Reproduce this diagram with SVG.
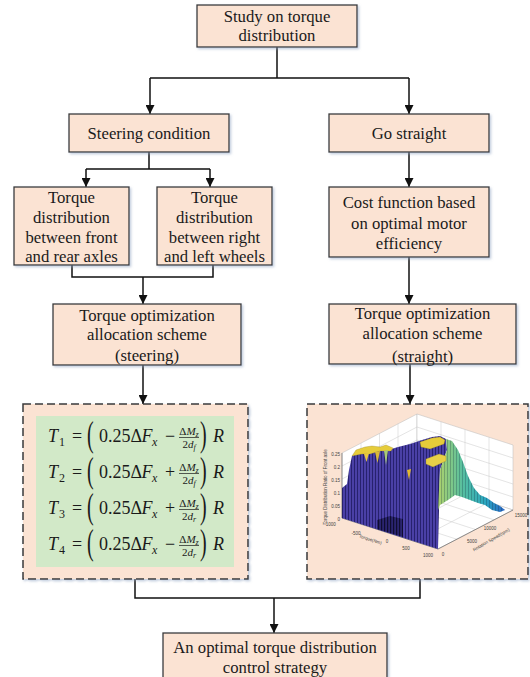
<svg xmlns="http://www.w3.org/2000/svg" width="530" height="677" viewBox="0 0 530 677">
<defs>
<style>
.box{fill:#FBE3D3;stroke:#3a3a3a;stroke-width:1.3;filter:url(#sh)}
.dash{fill:#FBE3D3;stroke:#3a3a3a;stroke-width:1.5;stroke-dasharray:8 4;filter:url(#sh)}
.t{font-family:"Liberation Serif","Times New Roman",serif;font-size:16.7px;fill:#1a1a1a;text-anchor:middle}
.c{fill:none;stroke:#111;stroke-width:1.5}
.m{font-family:"Liberation Serif","Times New Roman",serif;font-size:18px;fill:#1a1a1a}
.mi{font-style:italic}
.s{font-size:12px}
.p{font-size:20px}
.fr{font-size:11px;text-anchor:middle}
.fs{font-size:8px;font-style:italic}
.bar{stroke:#1a1a1a;stroke-width:0.7}
.g{fill:none;stroke:#c8c8c8;stroke-width:0.5}
.ax{fill:none;stroke:#555;stroke-width:0.6}
.tk{font-family:"Liberation Sans",Arial,sans-serif;font-size:4.5px;fill:#444}
</style>
<filter id="sh" x="-5%" y="-5%" width="115%" height="120%">
<feDropShadow dx="1.5" dy="1.5" stdDeviation="0.8" flood-color="#8fa3c2" flood-opacity="0.55"/>
</filter>
<marker id="ar" viewBox="0 0 10 10" refX="10" refY="5" markerWidth="9" markerHeight="9" markerUnits="userSpaceOnUse" orient="auto">
<path d="M0,0 L10,5 L0,10 z" fill="#111"/>
</marker>
<pattern id="stripes" width="3" height="10" patternUnits="userSpaceOnUse">
<rect width="3" height="10" fill="#4a40a6"/>
<rect width="0.9" height="10" fill="#231d68"/>
</pattern>
<pattern id="dstripes" width="3" height="10" patternUnits="userSpaceOnUse">
<rect width="3" height="10" fill="#2a2470"/>
<rect width="1.2" height="10" fill="#0f0d30"/>
</pattern>
<pattern id="rstripes" width="3" height="10" patternUnits="userSpaceOnUse">
<rect width="0.8" height="10" fill="#103040" opacity="0.35"/>
</pattern>
<linearGradient id="ramp" x1="440" y1="0" x2="505" y2="0" gradientUnits="userSpaceOnUse">
<stop offset="0" stop-color="#a8d070"/>
<stop offset="0.35" stop-color="#56bfa0"/>
<stop offset="0.7" stop-color="#2aa6c0"/>
<stop offset="1" stop-color="#2a66c8"/>
</linearGradient>
</defs>

<g id="connectors">
<path class="c" d="M277,47 V78 M150,78 H409"/>
<path class="c" d="M150,78 V114" marker-end="url(#ar)"/>
<path class="c" d="M409,78 V114" marker-end="url(#ar)"/>
<path class="c" d="M149,152 V169 M86,169 H210"/>
<path class="c" d="M86,169 V187" marker-end="url(#ar)"/>
<path class="c" d="M210,169 V187" marker-end="url(#ar)"/>
<path class="c" d="M72,265 V277 H213 V265"/>
<path class="c" d="M143,277 V304" marker-end="url(#ar)"/>
<path class="c" d="M409,152 V187" marker-end="url(#ar)"/>
<path class="c" d="M409,257 V304" marker-end="url(#ar)"/>
<path class="c" d="M143,365 V404" marker-end="url(#ar)"/>
<path class="c" d="M410,364 V404" marker-end="url(#ar)"/>
<path class="c" d="M135,579 V598 H420 V579"/>
<path class="c" d="M274,598 V633" marker-end="url(#ar)"/>
</g>

<g id="study">
<rect class="box" x="197" y="5" width="160" height="42"/>
<text class="t" x="277" y="22">Study on torque</text>
<text class="t" x="277" y="41">distribution</text>
</g>

<g id="steering">
<rect class="box" x="69" y="114" width="160" height="38"/>
<text class="t" x="149" y="139">Steering condition</text>
</g>

<g id="straight">
<rect class="box" x="329" y="114" width="160" height="38"/>
<text class="t" x="409" y="139">Go straight</text>
</g>

<g id="front-rear">
<rect class="box" x="14" y="187" width="115" height="78"/>
<text class="t" x="71.5" y="203">Torque</text>
<text class="t" x="71.5" y="223">distribution</text>
<text class="t" x="71.5" y="243">between front</text>
<text class="t" x="71.5" y="262">and rear axles</text>
</g>

<g id="right-left">
<rect class="box" x="157" y="187" width="115" height="78"/>
<text class="t" x="214.5" y="203">Torque</text>
<text class="t" x="214.5" y="223">distribution</text>
<text class="t" x="214.5" y="243">between right</text>
<text class="t" x="214.5" y="262">and left wheels</text>
</g>

<g id="cost">
<rect class="box" x="329" y="187" width="160" height="70"/>
<text class="t" x="409" y="208">Cost function based</text>
<text class="t" x="409" y="229">on optimal motor</text>
<text class="t" x="409" y="249">efficiency</text>
</g>

<g id="scheme-steering">
<rect class="box" x="53" y="304" width="188" height="61"/>
<text class="t" x="147" y="321">Torque optimization</text>
<text class="t" x="147" y="340">allocation scheme</text>
<text class="t" x="147" y="361">(steering)</text>
</g>

<g id="scheme-straight">
<rect class="box" x="329" y="304" width="187" height="60"/>
<text class="t" x="422.5" y="319">Torque optimization</text>
<text class="t" x="422.5" y="339">allocation scheme</text>
<text class="t" x="422.5" y="362">(straight)</text>
</g>

<g id="equations">
<rect class="dash" x="23" y="404" width="225" height="175"/>
<rect x="36" y="416" width="198" height="151" fill="#D2E9C8"/>
<g class="m">
<!-- row 1 -->
<text x="48" y="442" class="mi">T</text><text x="59" y="446" class="s">1</text>
<text x="77" y="442" text-anchor="middle">=</text>
<g transform="translate(87,437.5) scale(1,1.75)"><text x="0" y="5" class="p">(</text></g>
<text x="99" y="442">0.25Δ</text><text x="141.5" y="442" class="mi">F</text><text x="152" y="446" class="s mi">x</text>
<text x="170" y="442" text-anchor="middle">−</text>
<text x="189" y="434.5" class="fr">Δ<tspan font-style="italic">M</tspan><tspan class="fs" dy="2">z</tspan></text>
<line class="bar" x1="179" y1="437.5" x2="199" y2="437.5"/>
<text x="189" y="447.5" class="fr">2<tspan font-style="italic">d</tspan><tspan class="fs" dy="2">f</tspan></text>
<g transform="translate(200,437.5) scale(1,1.75)"><text x="0" y="5" class="p">)</text></g>
<text x="213" y="442" class="mi">R</text>
<!-- row 2 -->
<text x="48" y="478" class="mi">T</text><text x="59" y="482" class="s">2</text>
<text x="77" y="478" text-anchor="middle">=</text>
<g transform="translate(87,473.5) scale(1,1.75)"><text x="0" y="5" class="p">(</text></g>
<text x="99" y="478">0.25Δ</text><text x="141.5" y="478" class="mi">F</text><text x="152" y="482" class="s mi">x</text>
<text x="170" y="478" text-anchor="middle">+</text>
<text x="189" y="470.5" class="fr">Δ<tspan font-style="italic">M</tspan><tspan class="fs" dy="2">z</tspan></text>
<line class="bar" x1="179" y1="473.5" x2="199" y2="473.5"/>
<text x="189" y="483.5" class="fr">2<tspan font-style="italic">d</tspan><tspan class="fs" dy="2">f</tspan></text>
<g transform="translate(200,473.5) scale(1,1.75)"><text x="0" y="5" class="p">)</text></g>
<text x="213" y="478" class="mi">R</text>
<!-- row 3 -->
<text x="48" y="514" class="mi">T</text><text x="59" y="518" class="s">3</text>
<text x="77" y="514" text-anchor="middle">=</text>
<g transform="translate(87,509.5) scale(1,1.75)"><text x="0" y="5" class="p">(</text></g>
<text x="99" y="514">0.25Δ</text><text x="141.5" y="514" class="mi">F</text><text x="152" y="518" class="s mi">x</text>
<text x="170" y="514" text-anchor="middle">+</text>
<text x="189" y="506.5" class="fr">Δ<tspan font-style="italic">M</tspan><tspan class="fs" dy="2">z</tspan></text>
<line class="bar" x1="179" y1="509.5" x2="199" y2="509.5"/>
<text x="189" y="519.5" class="fr">2<tspan font-style="italic">d</tspan><tspan class="fs" dy="2">r</tspan></text>
<g transform="translate(200,509.5) scale(1,1.75)"><text x="0" y="5" class="p">)</text></g>
<text x="213" y="514" class="mi">R</text>
<!-- row 4 -->
<text x="48" y="550" class="mi">T</text><text x="59" y="554" class="s">4</text>
<text x="77" y="550" text-anchor="middle">=</text>
<g transform="translate(87,545.5) scale(1,1.75)"><text x="0" y="5" class="p">(</text></g>
<text x="99" y="550">0.25Δ</text><text x="141.5" y="550" class="mi">F</text><text x="152" y="554" class="s mi">x</text>
<text x="170" y="550" text-anchor="middle">−</text>
<text x="189" y="542.5" class="fr">Δ<tspan font-style="italic">M</tspan><tspan class="fs" dy="2">z</tspan></text>
<line class="bar" x1="179" y1="545.5" x2="199" y2="545.5"/>
<text x="189" y="555.5" class="fr">2<tspan font-style="italic">d</tspan><tspan class="fs" dy="2">r</tspan></text>
<g transform="translate(200,545.5) scale(1,1.75)"><text x="0" y="5" class="p">)</text></g>
<text x="213" y="550" class="mi">R</text>
</g>
</g>

<g id="surface-plot">
<rect class="dash" x="307" y="404" width="221" height="175"/>
<polygon points="342,453 417,414 417,479 342,518" fill="#fff" stroke="#bbb" stroke-width="0.5"/>
<polygon points="417,414 513,445 513,510 417,479" fill="#fff" stroke="#bbb" stroke-width="0.5"/>
<polygon points="342,518 417,479 513,510 438,549" fill="#fff" stroke="#bbb" stroke-width="0.5"/>
<path class="g" d="M361,443.3 V508.3 M379.5,433.5 V498.5 M398,423.8 V488.8 M342,505 L417,466 L513,497 M342,492 L417,453 L513,484 M342,479 L417,440 L513,471 M342,466 L417,427 L513,458 M441,421.8 V486.8 M465,429.5 V494.5 M489,437.3 V502.3 M361,508.3 L457,539.3 M379.5,498.5 L475.5,529.5 M398,488.8 L494,519.8 M366,525.8 L441,486.8 M390,533.5 L465,494.5 M414,541.3 L489,502.3"/>
<path class="ax" d="M342,453 V518 L438,549 L513,510"/>
<polygon points="342,518 342,488 347,484 349,470 352,456 360,452 372,449 385,451 398,447 410,444 422,440 432,437 440,436 446,439 447,450 440,470 438,549" fill="url(#stripes)"/>
<polygon points="377,520 390,516 403,519 403,537 377,529" fill="url(#dstripes)"/>
<polygon points="446,439 452,441 458,450 463,462 468,476 474,488 480,495 487,498 494,503 500,506 505,510 500,512 492,510 485,505 478,503 470,500 462,497 455,495 448,500 440,505 438,510 440,470 447,450" fill="url(#ramp)"/>
<polygon points="446,439 452,441 458,450 463,462 468,476 474,488 480,495 487,498 494,503 500,506 505,510 500,512 492,510 485,505 478,503 470,500 462,497 455,495 448,500 440,505 438,510 440,470 447,450" fill="url(#rstripes)"/>
<polygon points="352,456 356,450 365,447 372,446 380,447 386,445 393,448 391,451 380,451 370,454 362,454" fill="#e6cc3a" stroke="#8a7a20" stroke-width="0.3"/>
<polygon points="364,454 369,453 366.5,462" fill="#e8c840"/>
<polygon points="375,452 380,451 377.5,463" fill="#d9b838"/>
<polygon points="384,451 388,450 386,465" fill="#a8c878"/>
<polygon points="420,442 432,438 440,437 445,440 444,444 430,449 421,447" fill="#e6cc3a" stroke="#8a7a20" stroke-width="0.3"/>
<polygon points="426,459 439,454 446,456 446,461 433,467 426,464" fill="#e8cf48" stroke="#8a7a20" stroke-width="0.3"/>
<polygon points="407,470 411,469 409,480" fill="#e0b830"/>
<g class="tk" text-anchor="end">
<text x="340" y="456">0.25</text>
<text x="340" y="469">0.2</text>
<text x="340" y="482">0.15</text>
<text x="340" y="495">0.1</text>
<text x="340" y="508">0.05</text>
<text x="340" y="521">0</text>
</g>
<g class="tk" text-anchor="middle">
<text x="330" y="526">-1000</text>
<text x="356" y="535">-500</text>
<text x="387" y="543">0</text>
<text x="406" y="550">500</text>
<text x="428" y="557">1000</text>
<text x="443" y="556">0</text>
<text x="472" y="543">5000</text>
<text x="490" y="530">10000</text>
<text x="521" y="517">15000</text>
</g>
<text class="tk" font-size="4" text-anchor="middle" transform="translate(327,487) rotate(-90)">Torque Distribution Ratio of Front axle</text>
<text class="tk" text-anchor="middle" transform="translate(370,541) rotate(18)">Torque(Nm)</text>
<text class="tk" text-anchor="middle" transform="translate(492,541) rotate(-30)">Rotation Speed(rpm)</text>
</g>

<g id="final">
<rect class="box" x="163" y="633" width="224" height="60"/>
<text class="t" x="275" y="653">An optimal torque distribution</text>
<text class="t" x="275" y="673">control strategy</text>
</g>
</svg>
